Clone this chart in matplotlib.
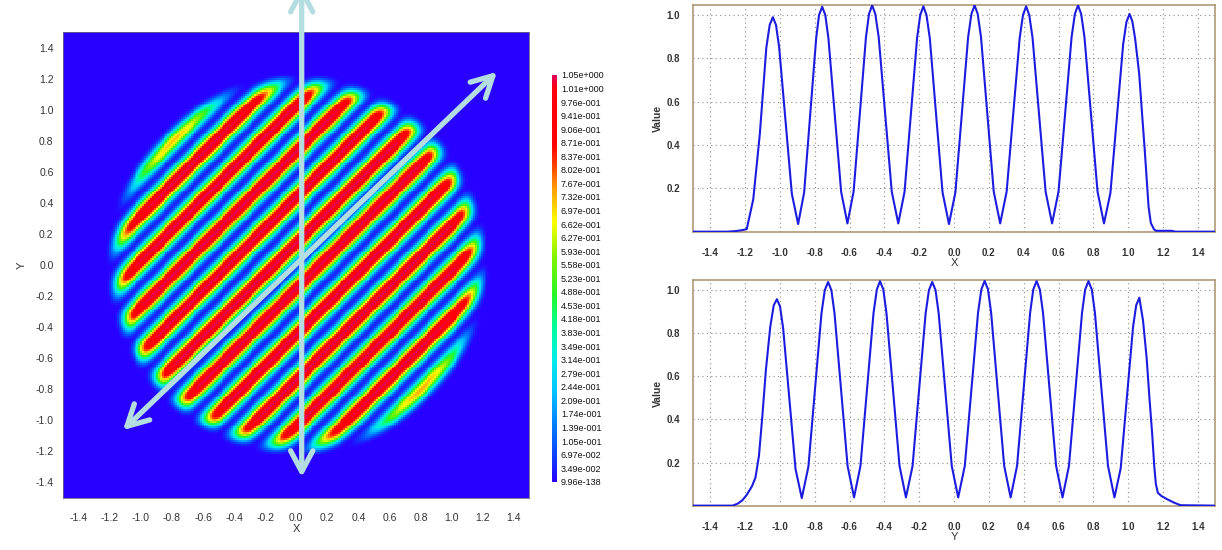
import numpy as np
import matplotlib
matplotlib.use('Agg')
import matplotlib.pyplot as plt
from matplotlib.colors import LinearSegmentedColormap, Normalize
from matplotlib.patches import FancyArrowPatch, ArrowStyle
import matplotlib.cm as cm

plt.rcParams['font.family'] = ['Liberation Sans', 'DejaVu Sans']
plt.rcParams['axes.unicode_minus'] = False

# ---------------- profile along X (top right) ----------------
x_prof_pos = [-1.5, -1.30, -1.25, -1.21, -1.19, -1.1525, -1.115, -1.0775, -1.058, -1.040, -1.022,
              -1.004, -0.9675, -0.931, -0.895,
              -0.8605, -0.826, -0.7915, -0.775, -0.757, -0.739,
              -0.721, -0.6845, -0.648, -0.612,
              -0.5765, -0.541, -0.5055, -0.488, -0.470, -0.452,
              -0.4325, -0.395, -0.3575, -0.320,
              -0.284, -0.248, -0.212, -0.194, -0.176, -0.158,
              -0.139, -0.1025, -0.066, -0.029,
              0.008, 0.0445, 0.081, 0.100, 0.118, 0.136,
              0.155, 0.1915, 0.228, 0.265,
              0.302, 0.3395, 0.377, 0.396, 0.414, 0.432,
              0.451, 0.4885, 0.526, 0.563,
              0.600, 0.6375, 0.675, 0.694, 0.712, 0.730,
              0.749, 0.7865, 0.824, 0.861,
              0.898, 0.9345, 0.971, 0.990, 1.008, 1.024,
              1.04, 1.063, 1.08, 1.095, 1.117, 1.13, 1.149, 1.16, 1.25, 1.27, 1.5]
x_prof_val = [0.0, 0.0, 0.003, 0.008, 0.012, 0.15, 0.45, 0.85, 0.955, 0.99, 0.954,
              0.851, 0.513, 0.174, 0.035,
              0.181, 0.537, 0.892, 1.0, 1.038, 1.0,
              0.892, 0.538, 0.184, 0.038,
              0.185, 0.541, 0.898, 1.005, 1.045, 1.005,
              0.898, 0.541, 0.185, 0.038,
              0.184, 0.539, 0.894, 1.0, 1.040, 1.0,
              0.893, 0.537, 0.182, 0.035,
              0.182, 0.540, 0.898, 1.005, 1.045, 1.005,
              0.898, 0.541, 0.185, 0.038,
              0.184, 0.539, 0.894, 1.0, 1.040, 1.0,
              0.894, 0.539, 0.184, 0.038,
              0.185, 0.541, 0.898, 1.005, 1.045, 1.005,
              0.898, 0.541, 0.185, 0.038,
              0.179, 0.522, 0.864, 0.968, 1.005, 0.97,
              0.89, 0.73, 0.54, 0.377, 0.115, 0.04, 0.01, 0.004, 0.004, 0.0, 0.0]

# ---------------- profile along Y (bottom right) ----------------
y_prof_pos = [-1.5, -1.27, -1.24, -1.215, -1.19, -1.16, -1.14, -1.12, -1.10, -1.08, -1.055, -1.035, -1.017, -0.999,
              -0.981, -0.9455, -0.910, -0.874,
              -0.836, -0.7985, -0.761, -0.742, -0.723, -0.704,
              -0.686, -0.6485, -0.611, -0.574,
              -0.537, -0.4995, -0.462, -0.443, -0.425, -0.406,
              -0.388, -0.3505, -0.313, -0.276,
              -0.238, -0.2005, -0.163, -0.144, -0.125, -0.106,
              -0.088, -0.0505, -0.013, 0.024,
              0.062, 0.100, 0.138, 0.157, 0.176, 0.195,
              0.213, 0.2505, 0.288, 0.325,
              0.362, 0.3995, 0.437, 0.455, 0.474, 0.493,
              0.511, 0.5485, 0.586, 0.623,
              0.660, 0.6975, 0.735, 0.753, 0.772, 0.791,
              0.809, 0.8465, 0.884, 0.921,
              0.957, 0.9925, 1.028, 1.046, 1.064,
              1.085, 1.106, 1.122, 1.138, 1.15, 1.159, 1.17, 1.19, 1.223, 1.26, 1.30, 1.5]
y_prof_val = [0.0, 0.0, 0.01, 0.025, 0.05, 0.09, 0.13, 0.23, 0.42, 0.63, 0.83, 0.93, 0.958, 0.925,
              0.823, 0.497, 0.170, 0.035,
              0.181, 0.537, 0.892, 1.0, 1.038, 1.0,
              0.892, 0.538, 0.184, 0.038,
              0.185, 0.540, 0.895, 1.003, 1.042, 1.003,
              0.895, 0.540, 0.185, 0.038,
              0.184, 0.538, 0.892, 1.0, 1.038, 1.0,
              0.892, 0.538, 0.184, 0.038,
              0.185, 0.540, 0.896, 1.004, 1.043, 1.004,
              0.896, 0.540, 0.185, 0.038,
              0.185, 0.540, 0.895, 1.003, 1.042, 1.003,
              0.895, 0.540, 0.185, 0.038,
              0.185, 0.540, 0.895, 1.003, 1.042, 1.003,
              0.895, 0.540, 0.185, 0.038,
              0.173, 0.502, 0.830, 0.93, 0.965,
              0.86, 0.685, 0.5, 0.33, 0.18, 0.1, 0.06, 0.045, 0.03, 0.015, 0.002, 0.0]

# ---------------- 2D field (stripes in a disk) ----------------
stripe_period = 0.296      # spacing of stripes along y at fixed x
stripe_phase = 0.14        # y - x at a stripe crest
stripe_base = 0.035
stripe_amp = 1.005
disk_center = (0.01, 0.0)
disk_radius = 1.165
disk_edge_power = 32
grid_n = 241

# colour bar
cbar_vmax = 1.046
cbar_labels = ['1.05e+000', '1.01e+000', '9.76e-001', '9.41e-001', '9.06e-001', '8.71e-001',
               '8.37e-001', '8.02e-001', '7.67e-001', '7.32e-001', '6.97e-001', '6.62e-001',
               '6.27e-001', '5.93e-001', '5.58e-001', '5.23e-001', '4.88e-001', '4.53e-001',
               '4.18e-001', '3.83e-001', '3.49e-001', '3.14e-001', '2.79e-001', '2.44e-001',
               '2.09e-001', '1.74e-001', '1.39e-001', '1.05e-001', '6.97e-002', '3.49e-002',
               '9.96e-138']

axis_ticks = [-1.4, -1.2, -1.0, -0.8, -0.6, -0.4, -0.2, 0.0, 0.2, 0.4, 0.6, 0.8, 1.0, 1.2, 1.4]
value_ticks = [0.2, 0.4, 0.6, 0.8, 1.0]

# arrows (data coords of heat map)
arrow_vertical = ((0.035, -1.386), (0.035, 1.82))
arrow_diagonal = ((-1.129, -1.077), (1.305, 1.257))

cmap = LinearSegmentedColormap.from_list('sim', [
    (0.00, (0.16, 0.00, 1.00)),
    (0.06, (0.05, 0.25, 1.00)),
    (0.14, (0.00, 0.50, 1.00)),
    (0.22, (0.00, 0.76, 1.00)),
    (0.30, (0.00, 0.93, 0.92)),
    (0.38, (0.00, 1.00, 0.60)),
    (0.46, (0.15, 0.97, 0.15)),
    (0.55, (0.50, 0.95, 0.00)),
    (0.64, (1.00, 1.00, 0.00)),
    (0.72, (1.00, 0.62, 0.00)),
    (0.78, (1.00, 0.25, 0.00)),
    (0.83, (1.00, 0.00, 0.00)),
    (0.97, (1.00, 0.00, 0.05)),
    (1.00, (0.88, 0.00, 0.35)),
])
norm = Normalize(0.0, cbar_vmax)

g = np.linspace(-1.5, 1.5, grid_n)
GX, GY = np.meshgrid(g, g)
u = GY - GX
stripes = stripe_base + stripe_amp * np.cos(np.pi * (u - stripe_phase) / stripe_period) ** 2
r = np.hypot(GX - disk_center[0], GY - disk_center[1])
env = np.exp(-np.log(2) * (r / disk_radius) ** disk_edge_power)
field = stripes * env

fig = plt.figure(figsize=(12.22, 5.5), dpi=100)

# ---- heat map ----
ax = fig.add_axes([0.0518, 0.0951, 0.3813, 0.8462])
ax.imshow(field, cmap=cmap, norm=norm, origin='lower', extent=(-1.5, 1.5, -1.5, 1.5),
          interpolation='nearest', aspect='auto')
ax.set_xlim(-1.5, 1.5)
ax.set_ylim(-1.5, 1.5)
ax.set_xticks(axis_ticks)
ax.set_yticks(axis_ticks)
ax.set_xticklabels(['%.1f' % t for t in axis_ticks])
ax.set_yticklabels(['%.1f' % t for t in axis_ticks])
ax.tick_params(axis='both', length=0, labelsize=7.5, colors='#333333')
ax.tick_params(axis='x', pad=11)
ax.tick_params(axis='y', pad=7)
for s in ax.spines.values():
    s.set_color('#6a6a80')
    s.set_linewidth(0.6)
ax.set_xlabel('X', fontsize=8, color='#333333', labelpad=1)
ax.set_ylabel('Y', fontsize=8, color='#333333', labelpad=6)

arrow_color = '#b4dde1'
for (p0, p1) in (arrow_vertical, arrow_diagonal):
    a = FancyArrowPatch(p0, p1, arrowstyle=ArrowStyle('<->', head_length=15, head_width=8),
                        mutation_scale=1, lw=3.8, color=arrow_color, capstyle='round',
                        joinstyle='round', transform=ax.transData, clip_on=False, zorder=5)
    ax.add_patch(a)

# ---- colour bar ----
cax = fig.add_axes([0.4515, 0.1242, 0.0041, 0.7395])
sm = cm.ScalarMappable(norm=norm, cmap=cmap)
cb = fig.colorbar(sm, cax=cax)
cb.outline.set_visible(False)
tick_pos = np.linspace(0.0, cbar_vmax, len(cbar_labels))
cb.set_ticks(tick_pos)
cb.set_ticklabels(cbar_labels[::-1])
cax.tick_params(length=0, labelsize=6.5, pad=3, colors='#111111')

# ---- profiles ----
def profile(rect, xs, vs, xlabel):
    a = fig.add_axes(rect)
    a.plot(xs, vs, color='#1c1ce0', lw=1.5, zorder=3)
    a.set_xlim(-1.5, 1.5)
    a.set_ylim(-0.003, 1.0475)
    a.set_xticks(axis_ticks)
    a.set_yticks(value_ticks)
    a.set_xticklabels(['%.1f' % t for t in axis_ticks])
    a.set_yticklabels(['%.1f' % t for t in value_ticks])
    a.grid(True, ls=(0, (1, 3)), color='#8c8c8c', lw=0.8)
    for s in a.spines.values():
        s.set_color('#a8916e')
        s.set_linewidth(1.1)
    a.tick_params(axis='both', length=0, labelsize=7, colors='#333333')
    for lab in a.get_xticklabels() + a.get_yticklabels():
        lab.set_fontweight('bold')
    a.tick_params(axis='x', pad=11)
    a.tick_params(axis='y', pad=9)
    a.set_xlabel(xlabel, fontsize=8, color='#333333', labelpad=0)
    a.set_ylabel('Value', fontsize=7.5, fontweight='bold', color='#333333', labelpad=3)
    return a

profile([0.5669, 0.5776, 0.4276, 0.4138], x_prof_pos, x_prof_val, 'X')
profile([0.5669, 0.0795, 0.4276, 0.4115], y_prof_pos, y_prof_val, 'Y')

fig.savefig('out.png', dpi=100)
